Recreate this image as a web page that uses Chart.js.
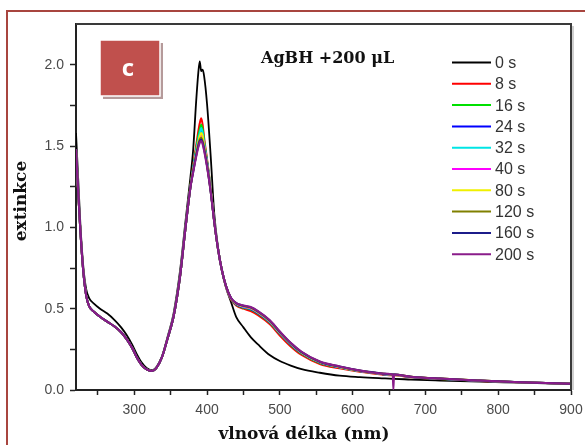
<!DOCTYPE html>
<html>
<head>
<meta charset="utf-8">
<script src="https://cdn.jsdelivr.net/npm/chart.js@4/dist/chart.umd.min.js"></script>
<style>
  html, body { margin: 0; padding: 0; background: #fff; }
  #wrap { width: 585px; height: 445px; position: relative; }
</style>
</head>
<body>
<div id="wrap"><canvas id="chart" width="585" height="445"></canvas></div>
<script>
/* ============================================
   AgBH +200 uL — extinction spectra over time
   ============================================ */

// wavelengths (nm), shared by every series
var wavelengths = [220, 223, 226, 230, 234, 238, 245, 253, 263, 273,
  282, 290, 297, 303, 310, 317, 324, 330, 338, 346,
  354, 363, 370, 377, 381, 385, 388, 390, 392, 394,
  396, 400, 405, 410, 415, 420, 426, 433, 440, 450,
  460, 470, 486, 500, 515, 530, 555, 582, 610, 640,
  655, 656, 657, 680, 720, 775, 830, 900];

var seriesLabels = ['0 s', '8 s', '16 s', '24 s', '32 s', '40 s', '80 s', '120 s', '160 s', '200 s'];
var seriesColors = ['#000000', '#ff0000', '#00e000', '#0000ff', '#00e5e5', '#ff00ff', '#f0f000', '#808000', '#1c1c8a', '#8a1c8a'];

var s0 = [1.58, 1.3, 1.02, 0.76, 0.62, 0.565, 0.53, 0.5, 0.47, 0.43,
  0.385, 0.335, 0.28, 0.225, 0.17, 0.135, 0.122, 0.138, 0.205, 0.33,
  0.47, 0.735, 1.02, 1.3, 1.48, 1.77, 1.95, 2.02, 1.96, 1.97,
  1.93, 1.76, 1.44, 1.08, 0.88, 0.74, 0.63, 0.54, 0.45, 0.385,
  0.325, 0.28, 0.215, 0.178, 0.15, 0.128, 0.106, 0.088, 0.079, 0.072,
  0.069, 0.069, 0.069, 0.064, 0.058, 0.051, 0.045, 0.037];
var s8 = [1.47, 1.21, 0.98, 0.73, 0.58, 0.515, 0.48, 0.45, 0.42, 0.39,
  0.355, 0.31, 0.26, 0.205, 0.155, 0.127, 0.117, 0.133, 0.2, 0.32,
  0.45, 0.7, 0.98, 1.25, 1.38, 1.5, 1.59, 1.64, 1.67, 1.63,
  1.55, 1.42, 1.24, 1.03, 0.87, 0.745, 0.635, 0.555, 0.52, 0.5,
  0.485, 0.46, 0.405, 0.335, 0.268, 0.215, 0.16, 0.133, 0.112, 0.096,
  0.09, 0.09, 0.09, 0.078, 0.067, 0.056, 0.047, 0.038];
var s16 = [1.48, 1.22, 0.98, 0.73, 0.58, 0.515, 0.48, 0.45, 0.42, 0.39,
  0.355, 0.31, 0.26, 0.205, 0.155, 0.127, 0.117, 0.133, 0.2, 0.32,
  0.45, 0.7, 0.98, 1.25, 1.37, 1.48, 1.56, 1.6, 1.63, 1.6,
  1.53, 1.41, 1.24, 1.03, 0.87, 0.745, 0.638, 0.56, 0.525, 0.505,
  0.495, 0.47, 0.415, 0.345, 0.277, 0.223, 0.166, 0.138, 0.115, 0.098,
  0.092, 0.092, 0.092, 0.08, 0.068, 0.057, 0.047, 0.038];
var s24 = [1.48, 1.22, 0.98, 0.73, 0.58, 0.515, 0.48, 0.45, 0.42, 0.39,
  0.355, 0.31, 0.26, 0.205, 0.155, 0.127, 0.117, 0.133, 0.2, 0.32,
  0.45, 0.7, 0.98, 1.24, 1.36, 1.46, 1.53, 1.57, 1.59, 1.57,
  1.51, 1.4, 1.23, 1.03, 0.87, 0.745, 0.639, 0.56, 0.527, 0.508,
  0.498, 0.473, 0.418, 0.348, 0.28, 0.226, 0.168, 0.139, 0.116, 0.099,
  0.093, 0.093, 0.093, 0.08, 0.069, 0.057, 0.048, 0.038];
var s32 = [1.48, 1.22, 0.98, 0.73, 0.58, 0.515, 0.48, 0.45, 0.42, 0.39,
  0.355, 0.31, 0.26, 0.205, 0.155, 0.127, 0.117, 0.133, 0.2, 0.32,
  0.45, 0.7, 0.98, 1.24, 1.36, 1.47, 1.54, 1.58, 1.61, 1.58,
  1.52, 1.4, 1.23, 1.03, 0.87, 0.745, 0.64, 0.562, 0.53, 0.51,
  0.5, 0.475, 0.42, 0.35, 0.282, 0.228, 0.17, 0.14, 0.117, 0.1,
  0.093, 0.093, 0.093, 0.081, 0.069, 0.057, 0.048, 0.038];
var s40 = [1.48, 1.22, 0.98, 0.73, 0.58, 0.515, 0.48, 0.45, 0.42, 0.39,
  0.355, 0.31, 0.26, 0.205, 0.155, 0.127, 0.117, 0.133, 0.2, 0.32,
  0.45, 0.7, 0.98, 1.24, 1.35, 1.45, 1.52, 1.55, 1.57, 1.55,
  1.5, 1.39, 1.23, 1.03, 0.87, 0.745, 0.64, 0.562, 0.53, 0.512,
  0.502, 0.477, 0.422, 0.352, 0.284, 0.229, 0.171, 0.141, 0.117, 0.1,
  0.094, 0.094, 0.094, 0.081, 0.069, 0.058, 0.048, 0.038];
var s80 = [1.48, 1.22, 0.98, 0.73, 0.58, 0.515, 0.48, 0.45, 0.42, 0.39,
  0.355, 0.31, 0.26, 0.205, 0.155, 0.127, 0.117, 0.133, 0.2, 0.32,
  0.45, 0.7, 0.98, 1.24, 1.35, 1.45, 1.52, 1.56, 1.58, 1.56,
  1.5, 1.39, 1.23, 1.03, 0.87, 0.745, 0.64, 0.563, 0.532, 0.514,
  0.504, 0.479, 0.424, 0.354, 0.285, 0.23, 0.172, 0.142, 0.118, 0.101,
  0.094, 0.094, 0.094, 0.081, 0.07, 0.058, 0.048, 0.038];
var s120 = [1.48, 1.22, 0.98, 0.73, 0.58, 0.515, 0.48, 0.45, 0.42, 0.39,
  0.355, 0.31, 0.26, 0.205, 0.155, 0.127, 0.117, 0.133, 0.2, 0.32,
  0.45, 0.7, 0.98, 1.24, 1.35, 1.44, 1.51, 1.54, 1.55, 1.53,
  1.49, 1.38, 1.22, 1.03, 0.87, 0.745, 0.64, 0.564, 0.533, 0.516,
  0.506, 0.481, 0.426, 0.356, 0.287, 0.232, 0.173, 0.143, 0.119, 0.101,
  0.095, 0.095, 0.095, 0.082, 0.07, 0.058, 0.048, 0.038];
var s160 = [1.48, 1.22, 0.98, 0.73, 0.58, 0.515, 0.48, 0.45, 0.42, 0.39,
  0.355, 0.31, 0.26, 0.205, 0.155, 0.127, 0.117, 0.133, 0.2, 0.32,
  0.45, 0.7, 0.98, 1.24, 1.34, 1.44, 1.5, 1.53, 1.54, 1.52,
  1.48, 1.38, 1.22, 1.03, 0.87, 0.745, 0.64, 0.565, 0.534, 0.518,
  0.508, 0.483, 0.428, 0.358, 0.289, 0.233, 0.174, 0.144, 0.12, 0.102,
  0.095, 0.095, 0.095, 0.082, 0.07, 0.058, 0.048, 0.038];
var s200 = [1.48, 1.22, 0.98, 0.73, 0.58, 0.515, 0.48, 0.45, 0.42, 0.39,
  0.355, 0.31, 0.26, 0.205, 0.155, 0.127, 0.117, 0.133, 0.2, 0.32,
  0.45, 0.7, 0.98, 1.24, 1.34, 1.43, 1.49, 1.52, 1.53, 1.51,
  1.47, 1.37, 1.22, 1.03, 0.87, 0.745, 0.64, 0.565, 0.535, 0.52,
  0.51, 0.485, 0.43, 0.36, 0.29, 0.235, 0.175, 0.145, 0.12, 0.102,
  0.095, 0.005, 0.095, 0.082, 0.07, 0.058, 0.048, 0.038];

var seriesValues = [s0, s8, s16, s24, s32, s40, s80, s120, s160, s200];

(function () {
  'use strict';

  var serif = "'DejaVu Serif', 'Liberation Serif', serif";
  var sans = "'Liberation Sans', Arial, sans-serif";

  function points(values) {
    return wavelengths.map(function (w, i) { return { x: w, y: values[i] }; });
  }

  var datasets = seriesValues.map(function (vals, i) {
    return {
      label: seriesLabels[i],
      data: points(vals),
      borderColor: seriesColors[i],
      borderWidth: i === 0 ? 1.8 : 2,
      pointRadius: 0,
      cubicInterpolationMode: 'monotone',
      fill: false,
      order: seriesValues.length - i   // later series drawn on top
    };
  });

  // frame, red panel box, title, legend, axis titles
  var decor = {
    id: 'decor',
    beforeDraw: function (chart) {
      var ctx = chart.ctx;
      ctx.save();
      ctx.strokeStyle = '#a8453f';
      ctx.lineWidth = 2;
      ctx.strokeRect(7, 11, 640, 500);
      ctx.restore();
    },
    afterDraw: function (chart) {
      var ctx = chart.ctx;
      var a = chart.chartArea;
      ctx.save();

      // top / right frame
      ctx.strokeStyle = '#d0d0d0';
      ctx.lineWidth = 2;
      ctx.beginPath();
      ctx.moveTo(a.right + 2, a.top + 2);
      ctx.lineTo(a.right + 2, a.bottom);
      ctx.stroke();
      ctx.strokeStyle = '#3a3a3a';
      ctx.beginPath();
      ctx.moveTo(a.left, a.top);
      ctx.lineTo(a.right, a.top);
      ctx.lineTo(a.right, a.bottom);
      ctx.stroke();

      // red "c" box with shadow
      ctx.fillStyle = '#b59a9a';
      ctx.fillRect(103, 43, 60, 56);
      ctx.fillStyle = '#c0504d';
      ctx.fillRect(100, 40, 60, 56);
      ctx.strokeStyle = '#ffffff';
      ctx.lineWidth = 1.5;
      ctx.strokeRect(100, 40, 60, 56);
      ctx.fillStyle = '#ffffff';
      ctx.font = "bold 24px 'Open Sans', sans-serif";
      ctx.textAlign = 'center';
      ctx.textBaseline = 'middle';
      ctx.fillText('c', 128, 69);

      // title
      ctx.fillStyle = '#111';
      ctx.font = 'bold 16px ' + serif;
      ctx.textAlign = 'left';
      ctx.textBaseline = 'alphabetic';
      ctx.fillText('AgBH +200 \u03bcL', 261, 63);

      // legend
      ctx.font = '16px ' + sans;
      ctx.textBaseline = 'middle';
      seriesLabels.forEach(function (lab, i) {
        var y = 62.5 + i * 21.3;
        ctx.strokeStyle = seriesColors[i];
        ctx.lineWidth = 2;
        ctx.beginPath();
        ctx.moveTo(452, y);
        ctx.lineTo(491, y);
        ctx.stroke();
        ctx.fillStyle = '#333';
        ctx.fillText(lab, 495, y + 1);
      });

      // axis titles
      ctx.fillStyle = '#111';
      ctx.font = 'bold 17px ' + serif;
      ctx.textAlign = 'center';
      ctx.fillText('vlnov\u00e1 d\u00e9lka (nm)', 304, 435);
      ctx.translate(22, 201);
      ctx.rotate(-Math.PI / 2);
      ctx.fillText('extinkce', 0, 0);

      ctx.restore();
    }
  };

  new Chart(document.getElementById('chart').getContext('2d'), {
    type: 'line',
    data: { datasets: datasets },
    options: {
      responsive: false,
      animation: false,
      layout: { padding: { left: 0, right: 14, top: 24, bottom: 0 } },
      scales: {
        x: {
          type: 'linear',
          min: 220,
          max: 900,
          afterFit: function (s) {
            s.height = 55;
            s.paddingLeft = 0;
            s.paddingRight = 0;
          },
          ticks: {
            stepSize: 50,
            includeBounds: false,
            autoSkip: false,
            maxRotation: 0,
            padding: 7,
            color: '#4a4a4a',
            font: { size: 14, family: sans },
            callback: function (v) { return v % 100 === 0 ? String(v) : ''; }
          },
          grid: { drawOnChartArea: false, drawTicks: true, tickLength: 5, tickColor: '#222', tickWidth: 1.5 },
          border: { color: '#222', width: 2 }
        },
        y: {
          min: 0,
          max: 2.25,
          afterFit: function (s) {
            s.width = 76;
            s.paddingTop = 0;
            s.paddingBottom = 0;
          },
          ticks: {
            stepSize: 0.25,
            autoSkip: false,
            padding: 6,
            color: '#4a4a4a',
            font: { size: 14, family: sans },
            callback: function (v) {
              return Math.abs(v * 2 - Math.round(v * 2)) < 1e-6 ? v.toFixed(1) : '';
            }
          },
          grid: {
            drawOnChartArea: false,
            drawTicks: true,
            tickLength: 6,
            tickWidth: 1.5,
            tickColor: function (c) { return c.tick && c.tick.value > 2.2 ? 'rgba(0,0,0,0)' : '#222'; }
          },
          border: { color: '#222', width: 2 }
        }
      },
      plugins: {
        legend: { display: false },
        tooltip: { enabled: false }
      }
    },
    plugins: [decor]
  });
})();
</script>
</body>
</html>
